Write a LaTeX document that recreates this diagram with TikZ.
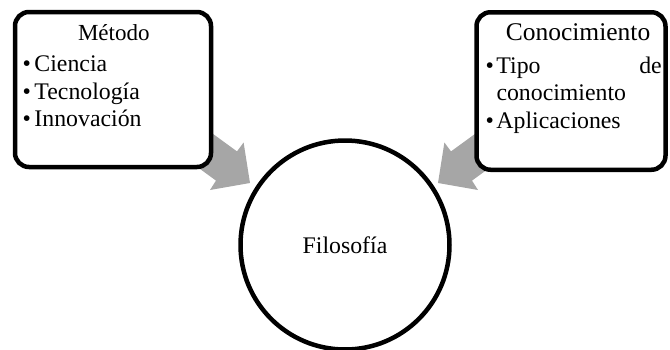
\documentclass[tikz,border=0pt]{standalone}
\usepackage{fontspec}
\setmainfont{Liberation Serif}
\definecolor{arrowgray}{RGB}{166,166,166}
\newcommand\bulmarkL{\makebox[11.8pt][l]{•}}
\newcommand\bulmarkR{\makebox[10.8pt][l]{•}}
\begin{document}
\begin{tikzpicture}[x=1pt,y=-1pt,
  box/.style={draw=black, line width=4.5pt, rounded corners=14pt, fill=white, inner sep=0pt},
  txt/.style={font=\fontsize{23.8}{27}\selectfont, inner sep=0pt, anchor=base west},
  ttl/.style={font=\fontsize{23}{27}\selectfont, inner sep=0pt, anchor=base},
  blockarrow/.style={fill=arrowgray}]
\useasboundingbox (0,0) rectangle (670,349);
% block arrows (drawn first, tails hidden under the boxes)
\fill[blockarrow] (196.5,121.9) -- (237,151.4) -- (243.6,142.5) -- (250,183) -- (210,190) -- (216,180.6) -- (175.5,151.1) -- cycle;
\fill[blockarrow] (491.5,121.9) -- (451,151.4) -- (444.4,142.5) -- (438,183) -- (478,190) -- (472,180.6) -- (512.5,151.1) -- cycle;
% boxes
\node[box, minimum width=196pt, minimum height=155pt] (metodo) at (113,89.5) {};
\node[box, minimum width=189pt, minimum height=157.5pt] (conoc) at (571,91) {};
\node[circle, draw=black, line width=4.5pt, fill=white, minimum size=209pt, inner sep=0pt,
      font=\fontsize{23.8}{27}\selectfont] (filo) at (345,245) {Filosofía};
% left box text
\node[ttl] (t1) at (113.8,40.3) {Método};
\node[txt] (m1) at (22.5,71.5) {\bulmarkL Ciencia};
\node[txt] (m2) at (22.5,99) {\bulmarkL Tecnología};
\node[txt] (m3) at (22.5,126.5) {\bulmarkL Innovación};
% right box text
\node[ttl, font=\fontsize{25.5}{27}\selectfont] (t2) at (578,40.3) {Conocimiento};
\node[txt] (c1) at (485.5,73) {\bulmarkR Tipo};
\node[txt, anchor=base east] (c1b) at (662,73) {de};
\node[txt] (c2) at (496.3,100.5) {conocimiento};
\node[txt] (c3) at (485.5,128) {\bulmarkR Aplicaciones};
\end{tikzpicture}
\end{document}
